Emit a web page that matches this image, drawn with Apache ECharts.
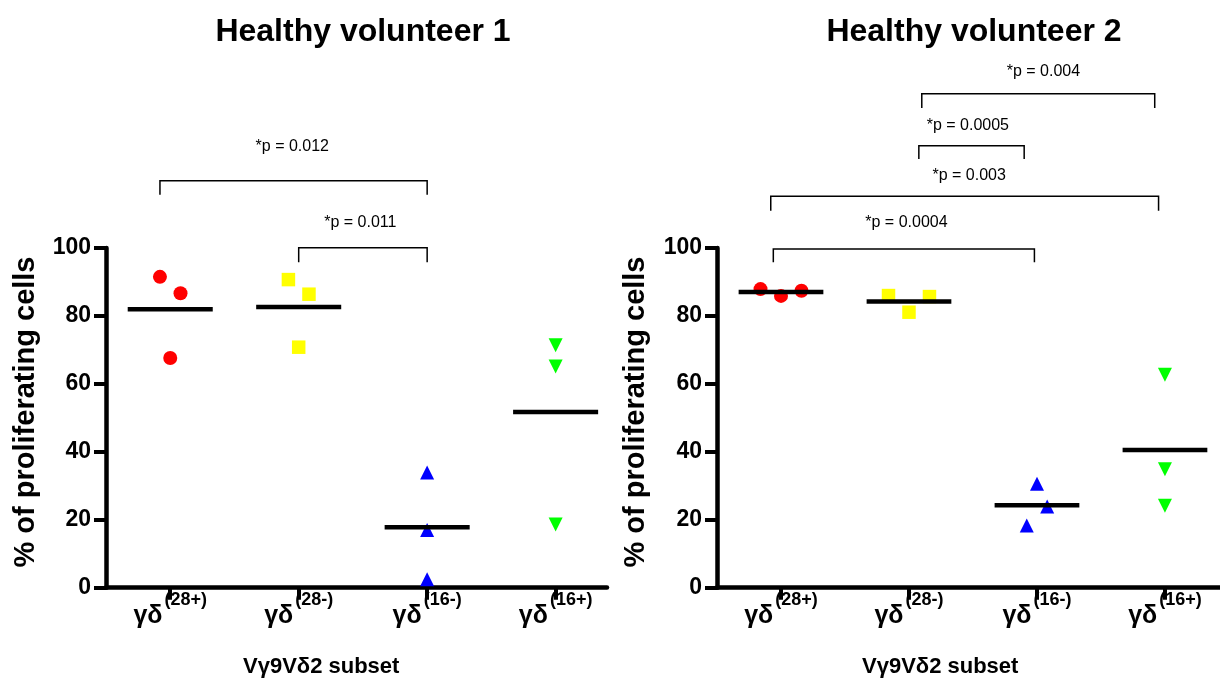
<!DOCTYPE html>
<html>
<head>
<meta charset="utf-8">
<script src="https://cdn.jsdelivr.net/npm/echarts@6/dist/echarts.min.js"></script>
<style>html,body{margin:0;padding:0;background:#fff}#c{width:1220px;height:688px}</style>
</head>
<body>
<div id="c"></div>
<script>
// ---- data ----
const categories = ['28+', '28-', '16-', '16+'];
const yTicks = [0, 20, 40, 60, 80, 100];
const titles = ['Healthy volunteer 1', 'Healthy volunteer 2'];
const xName = 'Vγ9Vδ2 subset';
const yName = '% of proliferating cells';

// panel 1 values (% proliferating)
const hv1_28p = [91.5, 86.7, 67.6];
const hv1_28m = [90.7, 86.4, 70.8];
const hv1_16m = [33.9, 17.0, 2.5];
const hv1_16p = [71.4, 65.1, 18.6];
// panel 2 values
const hv2_28p = [87.9, 85.9, 87.4];
const hv2_28m = [86.0, 85.7, 81.1];
const hv2_16m = [30.6, 23.9, 18.3];
const hv2_16p = [62.7, 34.9, 24.1];
// horizontal scatter offsets (category units)
const hv1_jit = [[-0.08, 0.08, 0], [-0.08, 0.08, 0], [0, 0, 0], [0, 0, 0]];
const hv2_jit = [[-0.16, 0, 0.16], [-0.16, 0.16, 0], [0, 0.08, -0.08], [0, 0, 0]];

// significance brackets: [x1, x2, yTop, yDrop, labelX, labelY, label]
const hv1_sig = [
  [-0.08, 2.0, 119.8, 115.7, 0.95, 129.9, '*p = 0.012'],
  [1.0, 2.0, 100.1, 95.8, 1.48, 107.4, '*p = 0.011']
];
const hv2_sig = [
  [1.10, 2.92, 145.4, 141.2, 2.05, 152.0, '*p = 0.004'],
  [1.077, 1.90, 130.1, 126.2, 1.46, 136.0, '*p = 0.0005'],
  [-0.08, 2.95, 115.2, 111.0, 1.47, 121.3, '*p = 0.003'],
  [-0.06, 1.98, 99.7, 95.8, 0.98, 107.5, '*p = 0.0004']
];

// ---- styles ----
const colors = ['#ff0000', '#ffff00', '#0000ff', '#00ff00'];
const symbols = ['circle', 'rect', 'triangle', 'triangle'];
const rotations = [0, 0, 0, 180];
const FONT = 'Liberation Sans, Arial, Helvetica, sans-serif';

const panels = [
  { groups: [hv1_28p, hv1_28m, hv1_16m, hv1_16p], jit: hv1_jit, sig: hv1_sig },
  { groups: [hv2_28p, hv2_28m, hv2_16m, hv2_16p], jit: hv2_jit, sig: hv2_sig }
];

const grids = [
  { left: 106, top: 248, width: 501, height: 339.7 },
  { left: 717, top: 248, width: 503, height: 339.7 }
];
const xMax = [3.4, 3.43];

const xAxes = [], yAxes = [], series = [];
panels.forEach((p, gi) => {
  xAxes.push({
    type: 'value', gridIndex: gi, min: -0.5, max: xMax[gi],
    splitLine: { show: false },
    axisLine: { show: true, onZero: false, lineStyle: { color: '#000', width: 4.5 } },
    axisTick: { show: true, customValues: [0, 1, 2, 3], length: 12, lineStyle: { color: '#000', width: 4 } },
    axisLabel: {
      customValues: [0, 1, 2, 3], margin: 3,
      formatter: v => '{a|γδ}{b|(' + categories[Math.round(v)] + ')}',
      rich: {
        a: { fontSize: 25, fontWeight: 'bold', fontFamily: FONT, color: '#000', verticalAlign: 'bottom', lineHeight: 38 },
        b: { fontSize: 18, fontWeight: 'bold', fontFamily: FONT, color: '#000', verticalAlign: 'top', lineHeight: 18, padding: [0, 0, 0, 2] }
      }
    }
  });
  yAxes.push({
    type: 'value', gridIndex: gi, min: 0, max: 100, interval: 20,
    splitLine: { show: false },
    axisLine: { show: true, onZero: false, lineStyle: { color: '#000', width: 4.5 } },
    axisTick: { show: true, length: 12, lineStyle: { color: '#000', width: 4 } },
    axisLabel: { margin: 15, fontSize: 23, fontWeight: 'bold', fontFamily: FONT, color: '#000',
      customValues: yTicks }
  });
  p.groups.forEach((vals, ci) => {
    series.push({
      type: 'scatter', xAxisIndex: gi, yAxisIndex: gi,
      symbol: symbols[ci], symbolRotate: rotations[ci], symbolSize: ci === 1 ? 13.5 : 14,
      itemStyle: { color: colors[ci], opacity: 1 },
      z: 3,
      data: vals.map((v, k) => [ci + p.jit[ci][k], v])
    });
  });
  // mean lines
  series.push({
    type: 'custom', xAxisIndex: gi, yAxisIndex: gi, z: 5, clip: false,
    data: p.groups.map((vals, ci) => [ci, vals.reduce((s, v) => s + v, 0) / vals.length]),
    renderItem: (params, api) => {
      const a = api.coord([api.value(0) - 0.331, api.value(1)]);
      const b = api.coord([api.value(0) + 0.331, api.value(1)]);
      return { type: 'line', shape: { x1: a[0], y1: a[1], x2: b[0], y2: b[1] },
        style: { stroke: '#000', lineWidth: 4.5 } };
    }
  });
  // significance brackets
  series.push({
    type: 'custom', xAxisIndex: gi, yAxisIndex: gi, z: 6, clip: false,
    data: p.sig.map(s => s.slice(0, 6)),
    renderItem: (params, api) => {
      const s = p.sig[params.dataIndex];
      const p1 = api.coord([s[0], s[3]]);
      const p2 = api.coord([s[0], s[2]]);
      const p3 = api.coord([s[1], s[2]]);
      const p4 = api.coord([s[1], s[3]]);
      const t = api.coord([s[4], s[5]]);
      return { type: 'group', children: [
        { type: 'polyline', shape: { points: [p1, p2, p3, p4] },
          style: { stroke: '#000', lineWidth: 1.5, fill: null } },
        { type: 'text', style: { x: t[0], y: t[1], text: s[6], align: 'center', verticalAlign: 'middle',
          fontSize: 16, fontFamily: FONT, fill: '#000' } }
      ] };
    }
  });
});

const chart = echarts.init(document.getElementById('c'));
chart.setOption({
  backgroundColor: '#fff',
  animation: false,
  title: [
    { text: titles[0], left: 358, top: 11, textAlign: 'center',
      textStyle: { fontSize: 32, fontWeight: 'bold', fontFamily: FONT, color: '#000' } },
    { text: titles[1], left: 969, top: 11, textAlign: 'center',
      textStyle: { fontSize: 32, fontWeight: 'bold', fontFamily: FONT, color: '#000' } }
  ],
  graphic: [
    { type: 'text', left: 243, top: 656, style: { text: xName, fontSize: 22, fontWeight: 'bold', fontFamily: FONT, fill: '#000' } },
    { type: 'text', left: 862, top: 656, style: { text: xName, fontSize: 22, fontWeight: 'bold', fontFamily: FONT, fill: '#000' } },
    { type: 'text', x: 26, y: 412, rotation: Math.PI / 2,
      style: { text: yName, fontSize: 29, fontWeight: 'bold', fontFamily: FONT, fill: '#000', align: 'center', verticalAlign: 'middle' } },
    { type: 'text', x: 636, y: 412, rotation: Math.PI / 2,
      style: { text: yName, fontSize: 29, fontWeight: 'bold', fontFamily: FONT, fill: '#000', align: 'center', verticalAlign: 'middle' } }
  ],
  grid: grids,
  xAxis: xAxes,
  yAxis: yAxes,
  series: series
});
</script>
</body>
</html>
